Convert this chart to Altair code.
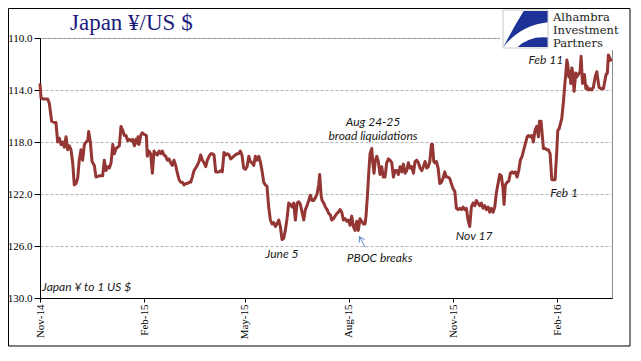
import altair as alt
import pandas as pd

START = "2014-11-01"

# day offsets from START and yen per US$
days_1 = [0.0, 0.9, 2.7, 6.8, 8.2, 10.3, 12.6, 14.1, 15.6, 17.1, 18.6, 20.1, 21.5, 23.0, 24.5, 25.9, 27.4, 28.9,
          30.3, 31.8, 33.3, 34.7, 36.2, 37.7, 39.2, 40.7, 42.2, 43.0, 44.5, 46.0, 48.0, 49.5, 52.4, 55.4, 56.8,
          58.3, 59.8, 61.3, 62.8, 64.3, 65.7, 67.2, 70.1, 71.6, 73.1, 74.5, 76.0, 77.5, 78.9, 80.4, 81.9, 83.4, 84.9]
vals_1 = [113.5, 114.6, 114.7, 114.7, 115.0, 116.4, 116.5, 116.5, 118.0, 117.7, 118.2, 118.0, 118.4, 117.6, 118.6,
          118.3, 118.6, 119.6, 121.3, 121.2, 120.8, 119.4, 118.6, 119.4, 118.2, 118.0, 117.9, 117.2, 118.0, 119.5,
          119.8, 120.7, 120.6, 120.6, 119.4, 120.2, 119.9, 120.0, 119.6, 118.2, 118.9, 118.5, 118.3, 116.8, 117.1,
          117.5, 117.5, 117.9, 117.8, 117.9, 117.8, 118.3, 117.8]

days_2 = [86.0, 86.6, 87.5, 89.0, 90.4, 91.9, 94.0, 94.8, 96.3, 97.8, 99.3, 100.8, 102.3, 103.7, 105.2, 106.7,
          108.1, 109.6, 111.1, 112.5, 114.0, 115.5, 116.9, 118.4, 119.9, 121.4, 122.9, 124.4, 125.8, 127.3, 128.8,
          130.2, 131.7, 133.2, 134.6, 136.1, 137.6, 139.0, 140.5, 142.0, 143.5, 145.0, 146.5, 147.9, 149.4, 150.9,
          152.3, 153.8, 155.3, 156.7, 158.2, 159.7, 161.1, 162.6, 164.1, 165.6, 167.1, 168.6]
vals_2 = [118.1, 117.6, 118.2, 117.5, 117.3, 117.4, 117.5, 119.1, 118.7, 118.9, 120.4, 118.7, 118.9, 119.0, 118.7,
          118.9, 118.7, 119.0, 119.1, 119.4, 119.3, 119.6, 119.8, 119.4, 119.8, 120.4, 120.9, 121.1, 121.1, 121.3,
          121.2, 121.2, 121.1, 121.1, 120.7, 120.2, 120.0, 119.8, 119.5, 119.0, 119.4, 119.6, 119.9, 119.4, 119.1,
          118.9, 118.9, 119.0, 120.3, 120.3, 120.3, 120.2, 120.3, 118.8, 119.0, 118.9, 119.0, 119.3]

days_3 = [171.2, 172.6, 174.1, 175.6, 177.0, 178.5, 180.0, 181.5, 183.0, 184.5, 185.9, 187.4, 188.9, 190.3, 191.8,
          193.3, 194.7, 196.2, 197.7, 199.1, 200.6, 202.1, 203.6, 205.1, 206.6, 208.0, 209.5, 211.0, 212.4, 213.9,
          215.4, 216.8, 218.3, 219.8, 221.2, 222.7, 224.2, 225.7, 227.2, 228.7, 230.1, 231.6, 233.1, 234.5, 236.0,
          237.5, 238.9, 240.4, 241.9, 243.3, 244.8, 246.3, 247.2, 248.4, 249.3, 250.8, 252.2, 253.7, 255.2, 256.6]
vals_3 = [119.1, 119.0, 118.9, 118.9, 118.7, 119.0, 120.0, 120.1, 119.9, 119.1, 119.5, 119.6, 119.8, 119.1, 119.4,
          119.1, 119.5, 120.2, 121.1, 121.3, 121.4, 123.0, 124.0, 124.3, 124.2, 124.5, 124.3, 124.0, 124.5, 125.5,
          125.4, 124.8, 123.9, 122.7, 122.8, 123.0, 122.7, 124.0, 122.7, 122.6, 122.8, 123.4, 124.0, 123.2, 122.9,
          122.5, 122.1, 122.5, 122.5, 122.3, 122.0, 121.3, 120.5, 122.1, 122.5, 122.7, 123.0, 123.2, 123.5, 123.6]

days_4 = [257.8, 259.3, 260.8, 262.3, 263.7, 265.2, 266.7, 268.1, 269.6, 271.1, 272.5, 274.0, 275.5, 276.9, 278.4,
          279.9, 281.3, 282.8, 284.3, 285.8, 287.3, 288.1, 289.3, 290.5, 291.7, 293.2, 294.1, 295.2, 296.4, 297.6,
          299.0, 300.5, 302.0, 303.4, 304.9, 306.4, 307.9, 309.4, 310.9, 312.3, 313.8, 315.3, 316.7, 318.2, 319.7,
          321.1, 322.6, 324.1, 325.5, 327.0, 328.5, 330.0, 331.5, 333.0, 334.4, 335.9, 337.4, 338.8, 340.3, 341.8,
          343.2]
vals_4 = [124.0, 123.9, 123.7, 123.5, 123.4, 123.2, 123.4, 124.0, 123.9, 124.1, 124.0, 124.4, 123.7, 124.5, 124.8,
          124.1, 124.8, 123.9, 124.1, 124.3, 124.3, 123.7, 122.2, 120.4, 118.9, 118.5, 119.6, 120.4, 119.4, 119.1,
          119.5, 120.5, 119.9, 120.7, 120.7, 119.6, 119.3, 119.4, 119.6, 120.7, 120.2, 120.2, 120.5, 119.9, 120.3,
          119.7, 120.4, 120.2, 119.6, 120.0, 119.9, 120.4, 119.5, 119.4, 119.6, 120.0, 120.2, 119.9, 119.5, 120.0,
          119.9]

days_5 = [344.5, 345.9, 346.8, 348.0, 348.9, 350.3, 351.8, 353.3, 354.7, 356.2, 357.7, 359.1, 360.6, 362.1, 363.5,
          365.1, 366.6, 368.0, 369.5, 371.0, 372.4, 373.9, 375.4, 376.8, 378.3, 379.8, 381.2, 382.7, 384.2, 385.6,
          387.1, 388.6, 390.1, 391.6, 393.1, 394.5, 396.0, 397.5, 398.9, 400.4, 401.9, 403.3, 404.8, 406.3, 407.7,
          409.2, 410.1, 411.3, 412.8, 414.3, 415.7, 417.2, 418.7, 420.1, 421.6, 423.1, 424.5, 426.0, 427.5, 429.0,
          430.5]
vals_5 = [119.5, 118.2, 118.2, 119.5, 119.6, 119.5, 120.0, 121.2, 121.1, 120.8, 120.3, 120.7, 120.7, 120.8, 121.2,
          121.6, 121.8, 123.1, 123.2, 123.1, 123.2, 123.0, 123.2, 123.1, 124.0, 124.5, 123.0, 122.7, 122.9, 122.5,
          122.7, 122.9, 122.7, 123.1, 122.9, 123.2, 123.0, 123.4, 123.1, 123.4, 123.0, 121.9, 121.2, 120.5, 120.6,
          121.6, 122.8, 121.3, 121.1, 121.0, 120.4, 120.3, 120.4, 120.3, 120.7, 120.2, 119.4, 119.1, 118.6, 118.1,
          117.6]

days_6 = [431.6, 433.1, 434.6, 436.0, 437.5, 439.0, 440.5, 441.4, 442.8, 444.0, 444.9, 446.4, 447.9, 449.3, 450.8,
          452.3, 453.7, 455.2, 456.7, 457.6, 458.7, 459.6, 461.1, 462.6, 463.4, 464.7, 465.6, 466.5, 467.3, 468.2,
          469.1, 470.0, 470.9, 472.0, 473.5, 474.4, 475.8, 477.3, 478.2, 479.4, 480.3, 481.1, 482.4, 483.3, 484.6,
          486.1, 487.6, 489.0, 490.6, 492.1, 493.0, 494.1, 495.9, 497.9, 499.4, 500.3, 501.4, 502.3, 503.9, 504.7]
vals_6 = [117.5, 117.6, 117.5, 118.0, 117.1, 116.8, 117.6, 116.4, 116.4, 117.6, 118.5, 118.5, 118.6, 118.6, 118.9,
          120.9, 120.9, 120.9, 118.7, 117.1, 117.0, 116.7, 116.2, 114.9, 114.0, 112.7, 111.7, 112.1, 113.0, 112.6,
          113.5, 112.3, 112.7, 114.1, 112.7, 113.0, 112.8, 112.6, 111.4, 113.5, 113.2, 112.8, 113.9, 113.7, 114.0,
          113.9, 114.0, 113.8, 113.0, 112.6, 113.2, 113.8, 113.9, 113.9, 113.2, 112.8, 112.7, 111.3, 111.6, 111.8]

days = days_1 + days_2 + days_3 + days_4 + days_5 + days_6
vals = vals_1 + vals_2 + vals_3 + vals_4 + vals_5 + vals_6

tick_labels = ["Nov-14", "Feb-15", "May-15", "Aug-15", "Nov-15", "Feb-16"]
y_ticks = [110, 114, 118, 122, 126, 130]

ann_text = ["June 5", "Aug 24-25", "broad liquidations", "PBOC breaks", "Nov 17", "Feb 1", "Feb 11"]
ann_day = [213.9, 294.3, 294.3, 300.1, 383.6, 463.2, 447.0]
ann_val = [126.6, 116.44, 117.54, 126.92, 125.2, 121.95, 111.7]

unit_text = ["Japan \u00a5 to 1 US $"]
unit_day = [1.8]
unit_val = [129.15]

# PBOC arrow segments (tip -> tail, tip -> arms)
arr_d1 = [282.3, 282.3, 282.3]
arr_v1 = [125.27, 125.27, 125.27]
arr_d2 = [287.2, 282.2, 286.9]
arr_v2 = [126.08, 125.73, 125.52]

base = pd.Timestamp(START)
df = pd.DataFrame({"date": base + pd.to_timedelta(days, unit="D"), "value": vals})
ann = pd.DataFrame({"date": base + pd.to_timedelta(ann_day, unit="D"), "value": ann_val, "label": ann_text})
unit = pd.DataFrame({"date": base + pd.to_timedelta(unit_day, unit="D"), "value": unit_val, "label": unit_text})
arr = pd.DataFrame({"d1": base + pd.to_timedelta(arr_d1, unit="D"), "v1": arr_v1,
                    "d2": base + pd.to_timedelta(arr_d2, unit="D"), "v2": arr_v2})
one = pd.DataFrame({"k": [0]})

tick_dates = [alt.DateTime(year=2014, month=11, date=1), alt.DateTime(year=2015, month=2, date=1),
              alt.DateTime(year=2015, month=5, date=1), alt.DateTime(year=2015, month=8, date=1),
              alt.DateTime(year=2015, month=11, date=1), alt.DateTime(year=2016, month=2, date=1)]

xscale = alt.Scale(domain=[alt.DateTime(year=2014, month=11, date=1),
                           alt.DateTime(year=2016, month=3, date=20, hours=12)])
yscale = alt.Scale(domain=[110, 130], reverse=True, nice=False, zero=False)

SERIF = "Liberation Serif"
SANS = "Lato"

line = alt.Chart(df).mark_line(color="#943634", strokeWidth=3, strokeJoin="round").encode(
    x=alt.X("date:T", scale=xscale, title=None,
            axis=alt.Axis(values=tick_dates, format="%b-%y", labelAngle=270, labelFont=SERIF,
                          labelFontSize=11, labelColor="black", domainColor="black", tickColor="black",
                          tickSize=4, labelPadding=2, grid=False, labelOverlap=False)),
    y=alt.Y("value:Q", scale=yscale, title=None,
            axis=alt.Axis(values=y_ticks, format=".1f", labelFont=SERIF, labelFontSize=11,
                          labelColor="black", domainColor="black", tickColor="black", tickSize=6,
                          labelPadding=2, grid=True, gridColor="#b4b4b4", gridDash=[3, 2], gridWidth=1)),
)

ann_layer = alt.Chart(ann).mark_text(font=SANS, fontSize=12, fontStyle="italic", color="#1a1a1a",
                                     align="center", baseline="middle").encode(
    x="date:T", y="value:Q", text="label:N")

unit_layer = alt.Chart(unit).mark_text(font=SANS, fontSize=12, fontStyle="italic", color="#1a1a1a",
                                       align="left", baseline="middle").encode(
    x="date:T", y="value:Q", text="label:N")

arrow = alt.Chart(arr).mark_rule(color="#5b86c0", strokeWidth=1).encode(
    x="d1:T", y="v1:Q", x2="d2:T", y2="v2:Q")

title = alt.Chart(one).mark_text(font=SERIF, fontSize=23, color="#1c1c7c", align="left",
                                 baseline="alphabetic").encode(
    x=alt.value(30), y=alt.value(-8.5), text=alt.value("Japan \u00a5/US $"))

cover = alt.Chart(one).mark_rect(fill="white", strokeWidth=0).encode(
    x=alt.value(460), x2=alt.value(589), y=alt.value(-30), y2=alt.value(12))

logo_box = alt.Chart(one).mark_rect(fill="white", stroke="#c8c8c8", strokeWidth=1).encode(
    x=alt.value(463), x2=alt.value(508), y=alt.value(-28), y2=alt.value(10))

swoosh = ("M -0.08 -0.8 L 0.98 -0.8 L 0.98 -0.3 Q -0.25 -0.15 -0.98 0.8 Q -0.55 -0.05 -0.08 -0.8 Z "
          "M -0.35 0.8 Q 0.2 0.3 0.98 0.38 L 0.98 0.8 Z")
logo_mark = alt.Chart(one).mark_point(shape=swoosh, filled=True, fill="#1d3296", strokeWidth=0,
                                      size=2025, opacity=1).encode(
    x=alt.value(485.5), y=alt.value(-9))

LOGO_FONT = "DejaVu Serif"
logo_lines = ["Alhambra", "Investment", "Partners"]
logo_txt = [alt.Chart(one).mark_text(font=LOGO_FONT, fontSize=11.5, color="#222222", align="left",
                                     baseline="alphabetic").encode(
    x=alt.value(513), y=alt.value(yy), text=alt.value(t))
    for t, yy in zip(logo_lines, [-17.3, -4.3, 8.7])]

frame = alt.Chart(one).mark_rect(fillOpacity=0, stroke="black", strokeWidth=1).encode(
    x=alt.value(-31.5), x2=alt.value(590), y=alt.value(-29.5), y2=alt.value(308))

chart = alt.layer(
    line, ann_layer, unit_layer, arrow, title, cover, logo_box, logo_mark, *logo_txt, frame
).properties(
    width=572, height=260,
    padding={"left": 32, "top": 30, "right": 19, "bottom": 49},
    autosize=alt.AutoSizeParams(type="none"),
    background="white",
).configure_view(stroke="#8c8c8c", strokeWidth=1)

chart.save("out.html", embed_options={"renderer": "svg", "actions": False})
